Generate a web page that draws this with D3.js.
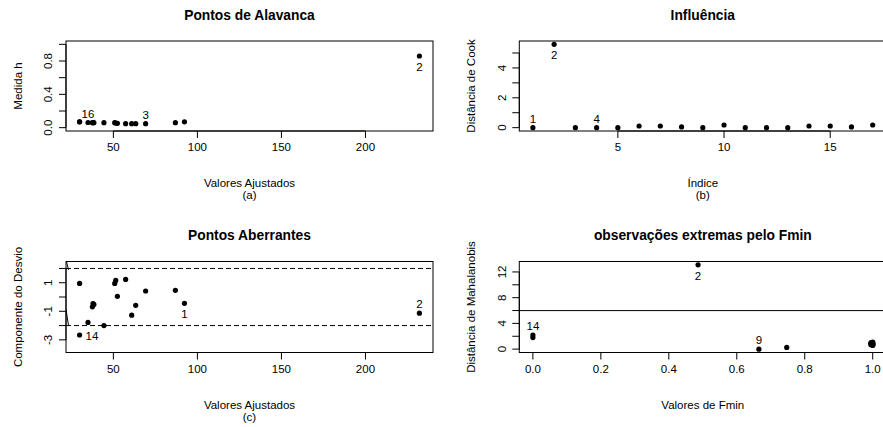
<!DOCTYPE html>
<html>
<head>
<meta charset="utf-8">
<script src="https://cdn.jsdelivr.net/npm/d3@7"></script>
<style>
body{margin:0;background:#fff;}
text{font-family:"Liberation Sans",Arial,sans-serif;fill:#000;}
</style>
</head>
<body>
<script>
let width = 883, height = 427;

// valores (obs 1..17)
let indices = d3.range(1,18);
let ajustados = [92.3,232.1,69.2,86.9,29.9,37.9,50.8,51.4,52.4,57.3,60.9,63.3,44.4,29.9,37.5,34.9,38.4];
let medidaH = [0.07,0.86,0.048,0.06,0.07,0.06,0.06,0.055,0.052,0.048,0.048,0.048,0.06,0.07,0.06,0.062,0.06];
let desvio = [-0.44,-1.13,0.42,0.47,0.95,-0.46,0.95,1.16,0.05,1.23,-1.27,-0.58,-2.0,-2.66,-0.69,-1.78,-0.52];
let cook = [0,5.58,0,0,0,0.11,0.11,0.05,0,0.18,0,0,0,0.11,0.11,0.05,0.18];
let fmin = [1,0.486,0.995,1,0,1,0.995,1,0.665,1,0.995,1,0.747,0,1,0.995,1];
let mahalanobis = [0.8,13.1,0.9,0.7,1.8,0.6,0.8,1.0,0,1.1,0.7,0.9,0.27,2.2,0.6,1.0,0.8];

// linhas de referencia
let limitesDesvio = [-2,2];
let limiteQui = 5.99;
let tracosDesvio = [[[21.0,3.0],[23.3,1.9]],[[21.81,-0.85],[23.3,-2.0]]];

// eixos
let ticksX13 = [50,100,150,200];
let ticksY1 = [0,0.2,0.4,0.6,0.8,1.0], rotY1 = ["0.0","","0.4","","0.8",""];
let ticksX2 = [5,10,15];
let ticksY2 = [0,1,2,3,4,5], rotY2 = ["0","","2","","4",""];
let ticksY3 = [-3,-2,-1,0,1,2], rotY3 = ["-3","","-1","","1",""];
let ticksX4 = [0,0.2,0.4,0.6,0.8,1.0], rotX4 = ["0.0","0.2","0.4","0.6","0.8","1.0"];
let ticksY4 = [0,2,4,6,8,10,12], rotY4 = ["0","","4","","8","","12"];
let limY1 = [0,1], limY3 = [-3.65,2.25];

// pontos identificados
let idAlavanca = [[16,"acima"],[3,"acima"],[2,"abaixo"]];
let idCook = [[1,"acima"],[4,"acima"],[2,"abaixo"]];
let idDesvio = [[14,"direita"],[1,"abaixo"],[2,"acima"]];
let idFmin = [[14,"acima"],[9,"acima"],[2,"abaixo"]];

let svg = d3.select('body').append('svg')
    .attr('width',width)
    .attr('height',height);

function rpad(ext){ // margem de 4% como no R
    let d = (ext[1]-ext[0])*0.04;
    return [ext[0]-d, ext[1]+d];
}

let nclip = 0;
function painel(o){
    let g = svg.append('g');
    let x = d3.scaleLinear().domain(o.xdom).range([o.box.x, o.box.x+o.box.w]);
    let y = d3.scaleLinear().domain(o.ydom).range([o.box.y+o.box.h, o.box.y]);
    let bottom = o.box.y+o.box.h, left = o.box.x;

    let cid = 'clip'+(nclip++);
    svg.append('clipPath').attr('id',cid).append('rect')
        .attr('x',o.box.x).attr('y',o.box.y).attr('width',o.box.w).attr('height',o.box.h);
    let plot = g.append('g').attr('clip-path','url(#'+cid+')');

    // titulo
    g.append('text').attr('x',o.box.x+o.box.w/2).attr('y',o.box.y-26).attr('dy','.35em')
        .attr('text-anchor','middle').style('font-weight','bold').style('font-size','13.8px')
        .text(o.title);
    // rotulos dos eixos
    o.xlab.forEach((t,i)=>{
        g.append('text').attr('x',o.box.x+o.box.w/2).attr('y',bottom+52+i*12).attr('dy','.35em')
            .attr('text-anchor','middle').style('font-size','11.5px').text(t);
    });
    g.append('text').attr('transform','translate('+(left-48)+','+(o.box.y+o.box.h/2)+') rotate(-90)')
        .attr('dy','.35em').attr('text-anchor','middle').style('font-size','11.5px').text(o.ylab);

    // eixo x
    g.append('line').attr('x1',x(o.xticks[0])).attr('x2',x(o.xticks[o.xticks.length-1]))
        .attr('y1',bottom).attr('y2',bottom).attr('stroke','#000');
    o.xticks.forEach((t,i)=>{
        g.append('line').attr('x1',x(t)).attr('x2',x(t)).attr('y1',bottom).attr('y2',bottom+7).attr('stroke','#000');
        g.append('text').attr('x',x(t)).attr('y',bottom+16).attr('dy','.35em')
            .attr('text-anchor','middle').style('font-size','11.5px')
            .text(o.xrot ? o.xrot[i] : t);
    });
    // eixo y
    g.append('line').attr('x1',left).attr('x2',left)
        .attr('y1',y(o.yticks[0])).attr('y2',y(o.yticks[o.yticks.length-1])).attr('stroke','#000');
    o.yticks.forEach((t,i)=>{
        g.append('line').attr('x1',left-7).attr('x2',left).attr('y1',y(t)).attr('y2',y(t)).attr('stroke','#000');
        if(o.yrot[i]!==''){
            g.append('text').attr('transform','translate('+(left-17.7)+','+y(t)+') rotate(-90)')
                .attr('dy','.35em').attr('text-anchor','middle').style('font-size','11.5px')
                .text(o.yrot[i]);
        }
    });

    // caixa
    g.append('rect').attr('x',o.box.x).attr('y',o.box.y).attr('width',o.box.w).attr('height',o.box.h)
        .attr('fill','none').attr('stroke','#000');

    if(o.extra) o.extra(plot,x,y);

    // pontos
    plot.selectAll('circle').data(o.xs.map((v,i)=>[v,o.ys[i]])).enter().append('circle')
        .attr('cx',d=>x(d[0])).attr('cy',d=>y(d[1])).attr('r',2.6).attr('fill','#000');

    // identificacao
    o.ids.forEach(([i,pos])=>{
        let px = x(o.xs[i-1]), py = y(o.ys[i-1]);
        let t = g.append('text').style('font-size','11.5px').attr('dy','.35em').text(i);
        if(pos==='acima') t.attr('x',px).attr('y',py-9).attr('text-anchor','middle');
        else if(pos==='abaixo') t.attr('x',px).attr('y',py+11).attr('text-anchor','middle');
        else t.attr('x',px+6).attr('y',py+0.5).attr('text-anchor','start');
    });
}

// (a) pontos de alavanca
painel({
    box:{x:66,y:41,w:367,h:90},
    xdom:rpad(d3.extent(ajustados)), ydom:rpad(limY1),
    xs:ajustados, ys:medidaH,
    xticks:ticksX13, yticks:ticksY1, yrot:rotY1,
    title:'Pontos de Alavanca', xlab:['Valores Ajustados','(a)'], ylab:'Medida h',
    ids:idAlavanca
});

// (b) influencia
painel({
    box:{x:519.3,y:41,w:367,h:90},
    xdom:rpad(d3.extent(indices)), ydom:rpad([0,d3.max(cook)]),
    xs:indices, ys:cook,
    xticks:ticksX2, yticks:ticksY2, yrot:rotY2,
    title:'Influência', xlab:['Índice','(b)'], ylab:'Distância de Cook',
    ids:idCook
});

// (c) pontos aberrantes
painel({
    box:{x:66,y:261.5,w:367,h:91},
    xdom:rpad(d3.extent(ajustados)), ydom:rpad(limY3),
    xs:ajustados, ys:desvio,
    xticks:ticksX13, yticks:ticksY3, yrot:rotY3,
    title:'Pontos Aberrantes', xlab:['Valores Ajustados','(c)'], ylab:'Componente do Desvio',
    ids:idDesvio,
    extra:(plot,x,y)=>{
        limitesDesvio.forEach(v=>{
            plot.append('line').attr('x1',x.range()[0]).attr('x2',x.range()[1])
                .attr('y1',y(v)).attr('y2',y(v)).attr('stroke','#000').attr('stroke-dasharray','5,3');
        });
        let linha = d3.line().x(d=>x(d[0])).y(d=>y(d[1]));
        tracosDesvio.forEach(s=>{
            plot.append('path').attr('d',linha(s)).attr('fill','none').attr('stroke','#000');
        });
    }
});

// (d) observacoes extremas
painel({
    box:{x:519.3,y:261.5,w:367,h:91},
    xdom:rpad([0,1]), ydom:rpad([0,d3.max(mahalanobis)]),
    xs:fmin, ys:mahalanobis,
    xticks:ticksX4, xrot:rotX4, yticks:ticksY4, yrot:rotY4,
    title:'observações extremas pelo Fmin', xlab:['Valores de Fmin'], ylab:'Distância de Mahalanobis',
    ids:idFmin,
    extra:(plot,x,y)=>{
        plot.append('line').attr('x1',x.range()[0]).attr('x2',x.range()[1])
            .attr('y1',y(limiteQui)).attr('y2',y(limiteQui)).attr('stroke','#000');
    }
});
</script>
</body>
</html>
